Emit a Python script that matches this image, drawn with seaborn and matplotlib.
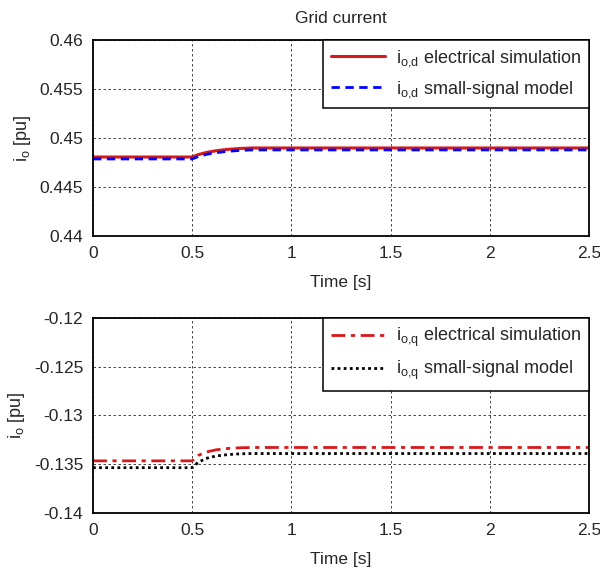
import matplotlib
matplotlib.use("Agg")
import matplotlib.pyplot as plt
import seaborn as sns
import pandas as pd

# data
time = [0.0, 0.5, 0.53, 0.57, 0.62, 0.68, 0.74, 0.8, 2.5]
iod_sim = [0.44806, 0.44806, 0.44830, 0.44852, 0.44870, 0.44884, 0.44893, 0.44898, 0.44898]
iod_ss = [0.44786, 0.44786, 0.44810, 0.44832, 0.44850, 0.44864, 0.44873, 0.44878, 0.44878]
ioq_sim = [-0.13465, -0.13465, -0.13410, -0.13375, -0.13352, -0.13338, -0.13331, -0.13328, -0.13328]
ioq_ss = [-0.13535, -0.13535, -0.13480, -0.13440, -0.13415, -0.13401, -0.13393, -0.13390, -0.13390]

xticks = [0, 0.5, 1, 1.5, 2, 2.5]
xticklabels = ["0", "0.5", "1", "1.5", "2", "2.5"]
yticks_d = [0.44, 0.445, 0.45, 0.455, 0.46]
yticklabels_d = ["0.44", "0.445", "0.45", "0.455", "0.46"]
yticks_q = [-0.14, -0.135, -0.13, -0.125, -0.12]
yticklabels_q = ["-0.14", "-0.135", "-0.13", "-0.125", "-0.12"]

sns.set_style("white")
plt.rcParams["font.family"] = ["Liberation Sans", "DejaVu Sans"]
plt.rcParams["mathtext.fontset"] = "custom"
plt.rcParams["mathtext.rm"] = "Liberation Sans"

df = pd.DataFrame({"t": time, "iod_sim": iod_sim, "iod_ss": iod_ss,
                   "ioq_sim": ioq_sim, "ioq_ss": ioq_ss})

fs = 12.5

fig = plt.figure(figsize=(6, 5.67), dpi=100)
ax1 = fig.add_axes([0.155, 0.5838, 0.827, 0.3457])
ax2 = fig.add_axes([0.155, 0.0952, 0.827, 0.344])

sns.lineplot(data=df, x="t", y="iod_sim", ax=ax1, color="#d7191c", lw=2.2,
             label=r"$\mathregular{i_{o{,}d}}$ electrical simulation")
sns.lineplot(data=df, x="t", y="iod_ss", ax=ax1, color="#0000ff", lw=2.0,
             linestyle=(0, (3, 2)), label=r"$\mathregular{i_{o{,}d}}$ small-signal model")
sns.lineplot(data=df, x="t", y="ioq_sim", ax=ax2, color="#d7191c", lw=2.0,
             linestyle=(0, (5, 2, 1.5, 2)), label=r"$\mathregular{i_{o{,}q}}$ electrical simulation")
sns.lineplot(data=df, x="t", y="ioq_ss", ax=ax2, color="black", lw=2.0,
             linestyle=(0, (1, 1.2)), label=r"$\mathregular{i_{o{,}q}}$ small-signal model")

for ax, yt, ytl in [(ax1, yticks_d, yticklabels_d), (ax2, yticks_q, yticklabels_q)]:
    ax.set_xlim(0, 2.5)
    ax.set_ylim(yt[0], yt[-1])
    ax.set_xticks(xticks)
    ax.set_xticklabels(xticklabels)
    ax.set_yticks(yt)
    ax.set_yticklabels(ytl)
    ax.tick_params(direction="in", length=4, width=1.2, labelsize=fs, color="black", pad=7)
    ax.grid(True, color="black", linestyle=(0, (3, 3)), lw=0.6, alpha=0.85)
    for s in ax.spines.values():
        s.set_color("black")
        s.set_linewidth(1.3)
    ax.set_xlabel("Time [s]", fontsize=fs, labelpad=10)
    ax.set_ylabel(r"$\mathregular{i_o}$ [pu]", fontsize=fs + 0.5, labelpad=5)
    leg = ax.legend(loc="upper right", borderaxespad=0, fancybox=False,
                    edgecolor="black", fontsize=fs + 0.5, handlelength=3.0,
                    handletextpad=0.6, borderpad=0.45, labelspacing=0.55, framealpha=1)
    leg.get_frame().set_linewidth(1.1)

ax1.set_title("Grid current", fontsize=fs, pad=12)

fig.savefig("out.png", dpi=100)
